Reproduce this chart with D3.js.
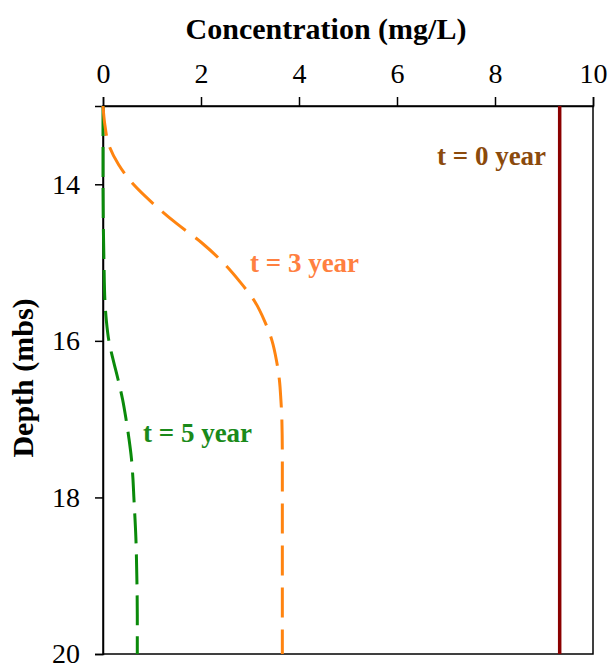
<!DOCTYPE html>
<html><head><meta charset="utf-8">
<script src="https://cdn.jsdelivr.net/npm/d3@7"></script>
<style>body{margin:0;background:#fff}svg{display:block}</style>
</head><body>
<svg id="c" width="610" height="666"></svg>
<script>
const xTicks = [0, 2, 4, 6, 8, 10];
const yTicks = [14, 16, 18, 20];
const depthT0 = [13, 20];
const concT0 = [9.32, 9.32];
const depthT3 = [13, 13.25, 13.5, 13.75, 14, 14.25, 14.5, 14.75, 15, 15.25, 15.5, 15.75, 16, 16.25, 16.5, 16.75, 17, 17.5, 18, 19, 20];
const concT3 = [0, 0.04, 0.12, 0.32, 0.62, 1.03, 1.5, 2.02, 2.45, 2.8, 3.1, 3.3, 3.45, 3.54, 3.6, 3.63, 3.65, 3.66, 3.66, 3.66, 3.66];
const depthT5 = [13, 14, 15, 15.5, 15.75, 16, 16.25, 16.5, 16.75, 17, 17.25, 17.5, 17.75, 18, 18.5, 19, 19.5, 20];
const concT5 = [0, 0, 0.02, 0.04, 0.07, 0.12, 0.21, 0.31, 0.4, 0.47, 0.53, 0.58, 0.61, 0.63, 0.67, 0.69, 0.7, 0.7];
const labels = ["t = 0 year", "t = 3 year", "t = 5 year"];

const svg = d3.select("#c");
const L = 103, R = 593, T = 106, B = 654;
const x = d3.scaleLinear().domain([0, 10]).range([L, R]);
const y = d3.scaleLinear().domain([13, 20]).range([T, B]);
const serif = "'Liberation Serif','Times New Roman',serif";

// frame
svg.append("rect").attr("x", L).attr("y", T).attr("width", R - L).attr("height", B - T)
  .attr("fill", "none").attr("stroke", "#000").attr("stroke-width", 1.5);

const xa = svg.append("g").attr("transform", `translate(0,${T})`)
  .call(d3.axisTop(x).tickValues(xTicks).tickSize(9).tickPadding(14).tickFormat(d3.format("d")));
const ya = svg.append("g").attr("transform", `translate(${L},0)`)
  .call(d3.axisLeft(y).tickValues(yTicks).tickSize(8).tickPadding(15).tickFormat(d3.format("d")));
[xa, ya].forEach(a => {
  a.select(".domain").attr("stroke", "#000").attr("stroke-width", 1.5);
  a.selectAll(".tick line").attr("stroke", "#000").attr("stroke-width", 1.5);
  a.selectAll(".tick text").attr("font-family", serif).attr("font-size", 28).attr("fill", "#000");
});

const line = (ds, cs) => d3.line().x((d, i) => x(cs[i])).y(d => y(d)).curve(d3.curveMonotoneY)(ds);

svg.append("path").attr("d", line(depthT5, concT5)).attr("fill", "none")
  .attr("stroke", "#0a8a0a").attr("stroke-width", 3).attr("stroke-dasharray", "30,11");
svg.append("path").attr("d", line(depthT3, concT3)).attr("fill", "none")
  .attr("stroke", "#ff8410").attr("stroke-width", 3).attr("stroke-dasharray", "30,12");
svg.append("path").attr("d", line(depthT0, concT0)).attr("fill", "none")
  .attr("stroke", "#8b0000").attr("stroke-width", 3.5);

const lab = (t, xx, yy, col) => svg.append("text").text(t).attr("x", xx).attr("y", yy)
  .attr("font-family", serif).attr("font-weight", "bold").attr("font-size", 27).attr("fill", col);
lab(labels[0], 437, 165, "#8b4a0c");
lab(labels[1], 250, 272, "#ff8040");
lab(labels[2], 143, 442, "#1a8a1a");

svg.append("text").text("Concentration (mg/L)").attr("x", 326).attr("y", 39)
  .attr("text-anchor", "middle").attr("font-family", serif).attr("font-weight", "bold").attr("font-size", 30);
svg.append("text").text("Depth (mbs)").attr("transform", "translate(33,378) rotate(-90)")
  .attr("text-anchor", "middle").attr("font-family", serif).attr("font-weight", "bold").attr("font-size", 30);
</script>
</body></html>
